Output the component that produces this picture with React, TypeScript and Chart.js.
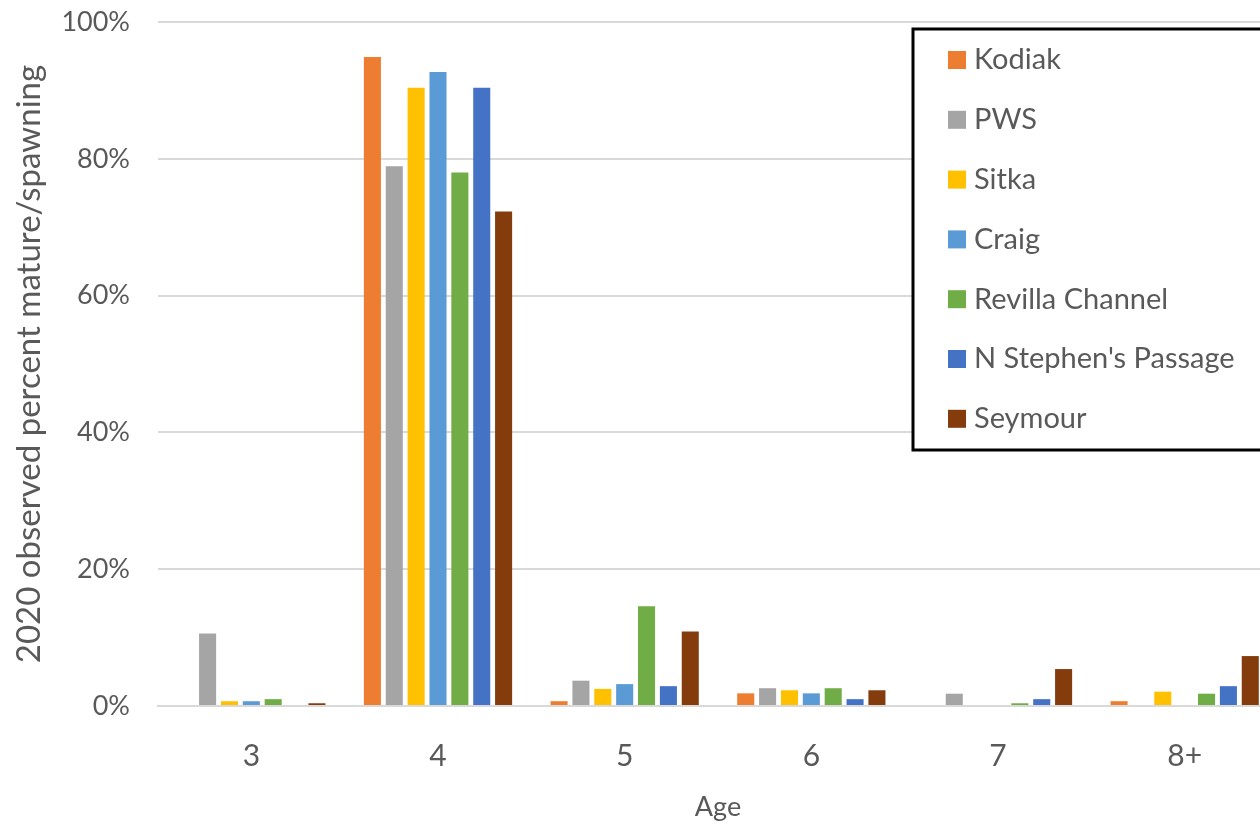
import React, { useEffect, useRef } from "react";
import { Chart, registerables } from "chart.js";

Chart.register(...registerables);

const ages = ["3", "4", "5", "6", "7", "8+"];
const kodiak = [0, 94.9, 0.7, 1.85, 0, 0.7];
const pws = [10.6, 78.9, 3.7, 2.6, 1.8, 0];
const sitka = [0.7, 90.4, 2.5, 2.3, 0, 2.1];
const craig = [0.7, 92.7, 3.2, 1.85, 0, 0];
const revilla = [1.0, 78.0, 14.6, 2.6, 0.4, 1.8];
const nStephens = [0, 90.4, 2.9, 1.0, 1.0, 2.9];
const seymour = [0.4, 72.3, 10.9, 2.3, 5.4, 7.3];
const yTicks = [0, 20, 40, 60, 80, 100];

const seriesNames = ["Kodiak", "PWS", "Sitka", "Craig", "Revilla Channel", "N Stephen's Passage", "Seymour"];
const seriesValues = [kodiak, pws, sitka, craig, revilla, nStephens, seymour];
const seriesColors = ["#ED7D31", "#A5A5A5", "#FFC000", "#5B9BD5", "#70AD47", "#4472C4", "#843C0C"];

const FONT = "Lato, 'Open Sans', sans-serif";
const TEXT = "#595959";

const legendBox = {
  id: "legendBox",
  afterDraw(chart: any) {
    const ctx = chart.ctx;
    const left = 913, top = 29, right = 1278, bottom = 450;
    ctx.save();
    ctx.fillStyle = "#ffffff";
    ctx.fillRect(left, top, right - left, bottom - top);
    ctx.lineWidth = 3;
    ctx.strokeStyle = "#000000";
    ctx.strokeRect(left, top, right - left, bottom - top);
    ctx.font = `29px ${FONT}`;
    ctx.textBaseline = "middle";
    ctx.textAlign = "left";
    chart.data.datasets.forEach((ds: any, i: number) => {
      const cy = 60 + i * 59.8;
      ctx.fillStyle = ds.backgroundColor;
      ctx.fillRect(948, cy - 9, 18, 18);
      ctx.fillStyle = TEXT;
      ctx.fillText(ds.label, 974, cy);
    });
    ctx.restore();
  },
};

export default function App() {
  const ref = useRef<HTMLCanvasElement>(null);
  useEffect(() => {
    if (!ref.current) return;
    const chart = new Chart(ref.current, {
      type: "bar",
      data: {
        labels: ages,
        datasets: seriesNames.map((name, i) => ({
          label: name,
          data: seriesValues[i],
          backgroundColor: seriesColors[i],
          borderWidth: 0,
          categoryPercentage: 0.82,
          barPercentage: 0.78,
        })),
      },
      options: {
        animation: false,
        responsive: false,
        maintainAspectRatio: false,
        layout: { padding: { top: 22, left: 0, right: 12, bottom: 0 } },
        plugins: { legend: { display: false }, tooltip: { enabled: false } },
        scales: {
          x: {
            grid: { display: false },
            border: { display: true, color: "#d9d9d9", width: 2 },
            ticks: { color: TEXT, font: { family: FONT, size: 30 }, padding: 24 },
            title: { display: true, text: "Age", color: TEXT, font: { family: FONT, size: 27 }, padding: { top: 0, bottom: 2 } },
            afterFit: (s: any) => { s.height = 119; },
          },
          y: {
            min: 0,
            max: 100,
            afterBuildTicks: (s: any) => { s.ticks = yTicks.map((v) => ({ value: v })); },
            grid: { color: "#d9d9d9", lineWidth: 2, drawTicks: true, tickLength: 23, tickColor: "rgba(0,0,0,0)" },
            border: { display: false },
            ticks: { color: TEXT, font: { family: FONT, size: 27 }, padding: 5, callback: (v: any) => v + "%" },
            title: { display: true, text: "2020 observed percent mature/spawning", color: TEXT, font: { family: FONT, size: 33 }, padding: { top: 10, bottom: 0 } },
            afterFit: (s: any) => { s.width = 158; },
          },
        },
      },
      plugins: [legendBox],
    });
    return () => chart.destroy();
  }, []);
  return (
    <div style={{ position: "fixed", left: 0, top: 0, width: 1260, height: 825, overflow: "hidden", background: "#fff" }}>
      <canvas ref={ref} width={1290} height={825} style={{ width: 1290, height: 825, display: "block" }} />
    </div>
  );
}
